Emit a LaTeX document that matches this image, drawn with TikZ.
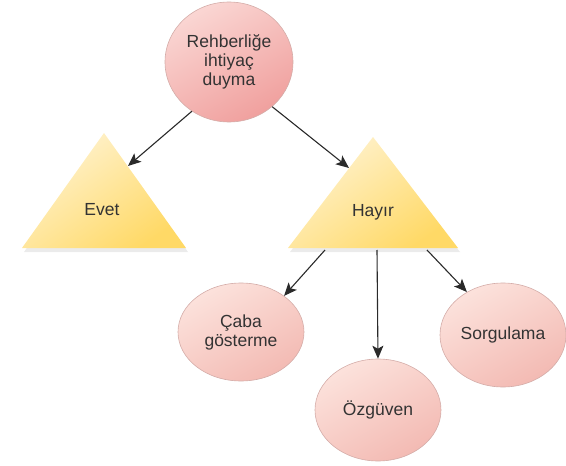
\documentclass[tikz,border=0pt]{standalone}
\usepackage{fontspec}
\setmainfont{Liberation Sans}
\usetikzlibrary{shapes.geometric,arrows.meta,shadows}
\definecolor{pinkA}{HTML}{FAD6D3}
\definecolor{pinkB}{HTML}{F0A09E}
\definecolor{pinkC}{HTML}{FCE2DC}
\definecolor{pinkD}{HTML}{F3BAB3}
\definecolor{pinkLine}{HTML}{D4ACA8}
\definecolor{yelA}{HTML}{FFF3D2}
\definecolor{yelB}{HTML}{FFD966}
\definecolor{arrowgray}{HTML}{2A2A2A}
\tikzset{
  txt/.style={font=\fontsize{17.5}{19}\selectfont, text=black!80, align=center},
  topoval/.style={ellipse, draw=pinkLine, line width=0.6pt,
    top color=pinkA, bottom color=pinkB, shading angle=30,
    minimum width=128pt, minimum height=120pt, inner sep=0pt, txt},
  leafoval/.style={ellipse, draw=pinkLine, line width=0.6pt,
    top color=pinkC, bottom color=pinkD, shading angle=30,
    minimum width=126pt, minimum height=98pt, inner sep=0pt, txt},
  tri/.style={top color=yelA, bottom color=yelB, shading angle=35,
    drop shadow={opacity=0.16, shadow xshift=2pt, shadow yshift=-4pt}},
  link/.style={draw=arrowgray, line width=1.1pt,
    -{Stealth[length=13pt,width=11pt,inset=3pt]}},
}
\begin{document}
\begin{tikzpicture}[x=1pt,y=-1pt]
  \useasboundingbox (0,0) rectangle (566,466);

  % triangles
  \path[tri] (22,248) -- (104,133) -- (186,248) -- cycle;
  \path[tri] (288,248) -- (373,137) -- (458,248) -- cycle;
  \node[txt] (evet) at (102,210) {Evet};
  \node[txt] (hayir) at (373,212) {Hayır};

  % points on the triangle edges
  \coordinate (evetIn) at (128,166);
  \coordinate (hayirIn) at (349,168);
  \coordinate (hayirL) at (325,250);
  \coordinate (hayirM) at (377,250);
  \coordinate (hayirR) at (427,250);

  % ovals
  \node[topoval] (top) at (229,62) {Rehberliğe\\ihtiyaç\\duyma};
  \node[leafoval] (caba) at (241,332) {Çaba\\gösterme};
  \node[leafoval, minimum height=102pt] (ozguven) at (378,410) {Özgüven};
  \node[leafoval, minimum height=104pt] (sorgu) at (503,335) {Sorgulama};

  % connectors
  \draw[link] (top.-127) -- (evetIn);
  \draw[link] (top.-46) -- (hayirIn);
  \draw[link] (hayirL) -- (caba.40);
  \draw[link] (hayirM) -- (ozguven.north);
  \draw[link] (hayirR) -- (sorgu.130);
\end{tikzpicture}
\end{document}
